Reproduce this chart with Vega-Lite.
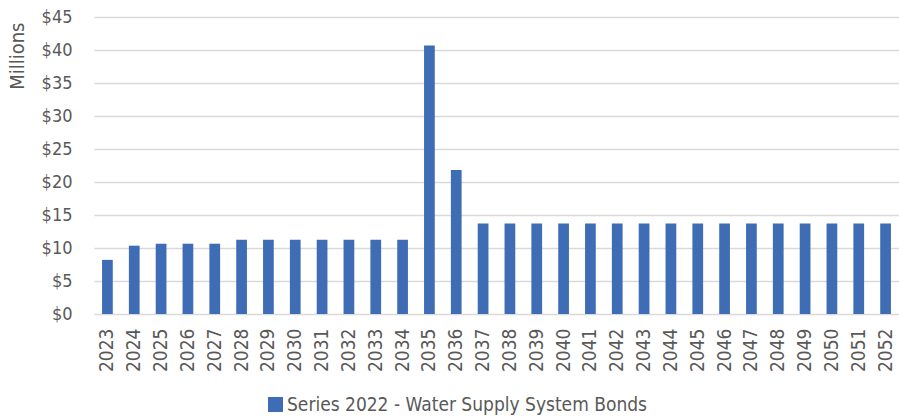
{
  "$schema": "https://vega.github.io/schema/vega-lite/v6.json",
  "width": 805,
  "height": 297,
  "autosize": {"type": "none"},
  "padding": {"left": 94, "top": 17, "right": 0, "bottom": 106},
  "config": {
    "view": {"stroke": null},
    "font": "'DejaVu Sans Condensed', 'Liberation Sans', sans-serif",
    "axis": {"labelFont": "'DejaVu Sans Condensed', 'Liberation Sans', sans-serif", "titleFont": "'DejaVu Sans Condensed', 'Liberation Sans', sans-serif", "labelColor": "#595959", "titleColor": "#595959"},
    "legend": {"labelFont": "'DejaVu Sans Condensed', 'Liberation Sans', sans-serif"}
  },
  "data": {
    "values": [
      {"year": "2023", "amount": 8.2, "series": "Series 2022 - Water Supply System Bonds"},
      {"year": "2024", "amount": 10.35, "series": "Series 2022 - Water Supply System Bonds"},
      {"year": "2025", "amount": 10.65, "series": "Series 2022 - Water Supply System Bonds"},
      {"year": "2026", "amount": 10.65, "series": "Series 2022 - Water Supply System Bonds"},
      {"year": "2027", "amount": 10.65, "series": "Series 2022 - Water Supply System Bonds"},
      {"year": "2028", "amount": 11.25, "series": "Series 2022 - Water Supply System Bonds"},
      {"year": "2029", "amount": 11.25, "series": "Series 2022 - Water Supply System Bonds"},
      {"year": "2030", "amount": 11.25, "series": "Series 2022 - Water Supply System Bonds"},
      {"year": "2031", "amount": 11.25, "series": "Series 2022 - Water Supply System Bonds"},
      {"year": "2032", "amount": 11.25, "series": "Series 2022 - Water Supply System Bonds"},
      {"year": "2033", "amount": 11.25, "series": "Series 2022 - Water Supply System Bonds"},
      {"year": "2034", "amount": 11.25, "series": "Series 2022 - Water Supply System Bonds"},
      {"year": "2035", "amount": 40.7, "series": "Series 2022 - Water Supply System Bonds"},
      {"year": "2036", "amount": 21.8, "series": "Series 2022 - Water Supply System Bonds"},
      {"year": "2037", "amount": 13.7, "series": "Series 2022 - Water Supply System Bonds"},
      {"year": "2038", "amount": 13.7, "series": "Series 2022 - Water Supply System Bonds"},
      {"year": "2039", "amount": 13.7, "series": "Series 2022 - Water Supply System Bonds"},
      {"year": "2040", "amount": 13.7, "series": "Series 2022 - Water Supply System Bonds"},
      {"year": "2041", "amount": 13.7, "series": "Series 2022 - Water Supply System Bonds"},
      {"year": "2042", "amount": 13.7, "series": "Series 2022 - Water Supply System Bonds"},
      {"year": "2043", "amount": 13.7, "series": "Series 2022 - Water Supply System Bonds"},
      {"year": "2044", "amount": 13.7, "series": "Series 2022 - Water Supply System Bonds"},
      {"year": "2045", "amount": 13.7, "series": "Series 2022 - Water Supply System Bonds"},
      {"year": "2046", "amount": 13.7, "series": "Series 2022 - Water Supply System Bonds"},
      {"year": "2047", "amount": 13.7, "series": "Series 2022 - Water Supply System Bonds"},
      {"year": "2048", "amount": 13.7, "series": "Series 2022 - Water Supply System Bonds"},
      {"year": "2049", "amount": 13.7, "series": "Series 2022 - Water Supply System Bonds"},
      {"year": "2050", "amount": 13.7, "series": "Series 2022 - Water Supply System Bonds"},
      {"year": "2051", "amount": 13.7, "series": "Series 2022 - Water Supply System Bonds"},
      {"year": "2052", "amount": 13.7, "series": "Series 2022 - Water Supply System Bonds"}
    ]
  },
  "mark": {"type": "bar"},
  "encoding": {
    "x": {
      "field": "year",
      "type": "ordinal",
      "scale": {"paddingInner": 0.6, "paddingOuter": 0.3},
      "axis": {
        "title": null,
        "labelAngle": -90,
        "labelFontSize": 19,
        "labelPadding": 14,
        "ticks": false,
        "domain": false
      }
    },
    "y": {
      "field": "amount",
      "type": "quantitative",
      "scale": {"domain": [0, 45], "nice": false},
      "axis": {
        "title": "Millions",
        "titleFontSize": 20,
        "titleFontWeight": "normal",
        "titleAnchor": "end",
        "titleX": -67,
        "titleY": 5,
        "titleAlign": "right",
        "values": [0, 5, 10, 15, 20, 25, 30, 35, 40, 45],
        "labelExpr": "'$' + datum.value",
        "labelFontSize": 18,
        "labelPadding": 22,
        "ticks": false,
        "domain": false,
        "gridColor": "#d9d9d9",
        "gridWidth": 1.5
      }
    },
    "color": {
      "field": "series",
      "type": "nominal",
      "scale": {"range": ["#3f6db5"]},
      "legend": {
        "title": null,
        "orient": "none",
        "legendX": 172,
        "legendY": 378,
        "symbolType": "square",
        "symbolSize": 225,
        "symbolStrokeWidth": 0,
        "labelFontSize": 19,
        "labelLimit": 0,
        "labelColor": "#595959",
        "symbolOffset": 0,
        "labelOffset": 2
      }
    }
  }
}
